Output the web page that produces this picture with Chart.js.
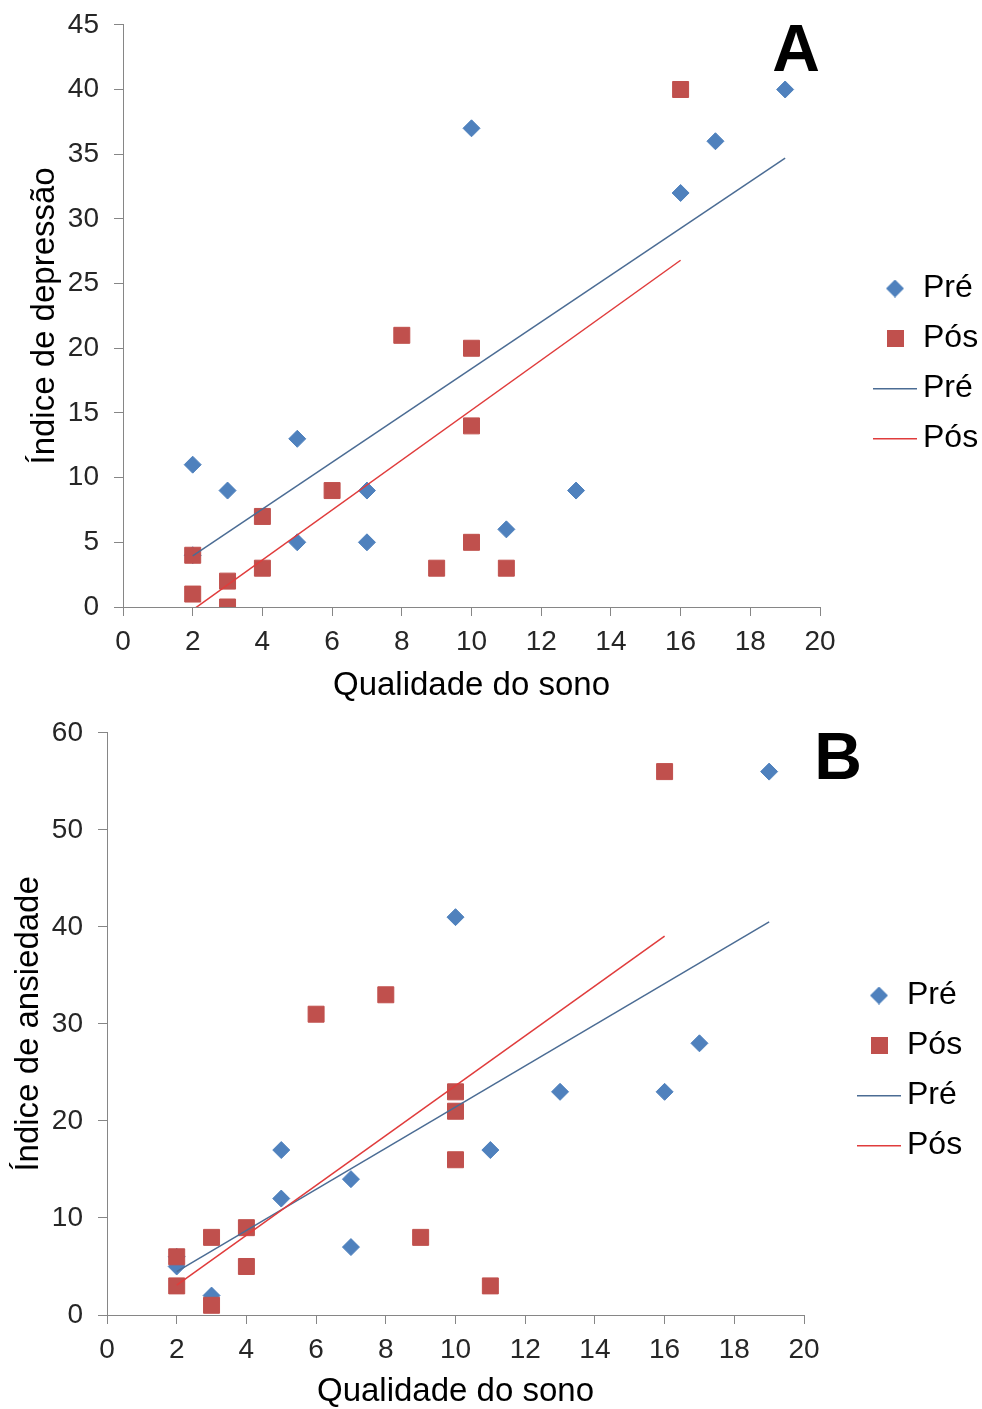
<!DOCTYPE html>
<html lang="pt">
<head>
	<meta charset="utf-8">
	<title>Qualidade do sono</title>
	<style>
body {
	margin: 0;
	background: #fff;
	overflow: hidden;
}
#wrap {
	position: relative;
	width: 982px;
	height: 1409px;
	overflow: hidden;
}
canvas {
	position: absolute;
}
	</style>
</head>
<body>

<div id="wrap">
	<canvas id="chartA" width="982" height="710" style="left:0;top:-7px"></canvas>
	<canvas id="chartB" width="982" height="708" style="left:-16px;top:701px"></canvas>
</div>

<script src="https://cdn.jsdelivr.net/npm/chart.js"></script>
<script>
// sleep quality score of each participant (x)
const qualityPre = [2, 2, 3, 5, 5, 7, 7, 10, 11, 13, 16, 17, 19];
const qualityPos = [2, 2, 3, 3, 4, 4, 6, 8, 9, 10, 10, 10, 11, 16];

// A - depression index
const depressionPre = [11, 4, 9, 13, 5, 9, 5, 37, 6, 9, 32, 36, 40];
const depressionPos = [4, 1, 2, 0, 7, 3, 9, 21, 3, 20, 14, 5, 3, 40];

// B - anxiety index
const anxietyPre = [5, 6, 2, 17, 12, 14, 7, 41, 17, 23, 23, 28, 56];
const anxietyPos = [6, 3, 8, 1, 9, 5, 31, 33, 8, 23, 21, 16, 3, 56];

const seriesNames = ['Pré', 'Pós', 'Pré', 'Pós'];

const BLUE = '#4F81BD';
const RED = '#C0504D';
const BLUE_LINE = '#4B6C94';
const RED_LINE = '#E03C3C';
const AXIS = '#868686';
const FONT = "'Liberation Sans', Arial, sans-serif";

function points(xs, ys) {
	return xs.map((x, i) => ({x: x, y: ys[i]}));
}

// linear trendline over the data range (least squares, like Excel)
function trend(xs, ys) {
	let n = xs.length;
	let mx = xs.reduce((a, b) => a + b, 0) / n;
	let my = ys.reduce((a, b) => a + b, 0) / n;
	let sxy = 0, sxx = 0;
	for (let i = 0; i < n; i++) {
		sxy += (xs[i] - mx) * (ys[i] - my);
		sxx += (xs[i] - mx) * (xs[i] - mx);
	}
	let b = sxy / sxx;
	let a = my - b * mx;
	let x0 = Math.min(...xs), x1 = Math.max(...xs);
	return [{x: x0, y: a + b * x0}, {x: x1, y: a + b * x1}];
}

// little pictures for the legend
function icon(w, h, draw) {
	let c = document.createElement('canvas');
	c.width = w;
	c.height = h;
	draw(c.getContext('2d'));
	return c;
}
const legendIcons = [
	icon(18, 18, g => {
		g.fillStyle = BLUE;
		g.beginPath();
		g.moveTo(9, 0); g.lineTo(18, 9); g.lineTo(9, 18); g.lineTo(0, 9);
		g.closePath();
		g.fill();
	}),
	icon(17, 17, g => { g.fillStyle = RED; g.fillRect(0, 0, 17, 17); }),
	icon(44, 3, g => { g.fillStyle = BLUE_LINE; g.fillRect(0, 1, 44, 1.5); }),
	icon(44, 3, g => { g.fillStyle = RED_LINE; g.fillRect(0, 1, 44, 1.5); })
];

// big panel letter (A / B)
const panelLabel = {
	id: 'panelLabel',
	afterDraw(chart, args, opts) {
		let ctx = chart.ctx;
		ctx.save();
		ctx.font = 'bold 66px ' + FONT;
		ctx.fillStyle = '#000';
		ctx.textAlign = 'right';
		ctx.textBaseline = 'alphabetic';
		ctx.fillText(opts.text, chart.chartArea.right + opts.dx, chart.chartArea.top + opts.dy);
		ctx.restore();
	}
};

function makeChart(id, pre, pos, yMax, yStep, yTitle, letter, letterDx, xAxisH) {
	new Chart(document.getElementById(id), {
		type: 'scatter',
		data: {
			datasets: [
				{
					label: seriesNames[0],
					data: points(qualityPre, pre),
					pointStyle: 'rectRot',
					pointRadius: 8.5,
					backgroundColor: BLUE,
					borderColor: BLUE,
					borderWidth: 1,
					order: 4
				},
				{
					label: seriesNames[1],
					data: points(qualityPos, pos),
					pointStyle: 'rect',
					pointRadius: 11.3,
					backgroundColor: RED,
					borderColor: RED,
					borderWidth: 1,
					order: 3
				},
				{
					label: seriesNames[2],
					data: trend(qualityPre, pre),
					showLine: true,
					pointRadius: 0,
					borderColor: BLUE_LINE,
					borderWidth: 1.5,
					clip: 0,
					order: 2
				},
				{
					label: seriesNames[3],
					data: trend(qualityPos, pos),
					showLine: true,
					pointRadius: 0,
					borderColor: RED_LINE,
					borderWidth: 1.5,
					clip: 0,
					order: 1
				}
			]
		},
		options: {
			responsive: false,
			animation: false,
			events: [],
			layout: {
				padding: {top: 31, left: 0, right: 0, bottom: 0}
			},
			scales: {
				x: {
					type: 'linear',
					min: 0,
					max: 20,
					ticks: {
						stepSize: 2,
						padding: 9,
						color: '#262626',
						font: {family: FONT, size: 28}
					},
					grid: {drawOnChartArea: false, tickLength: 9, color: AXIS},
					border: {color: AXIS, width: 1},
					title: {
						display: true,
						text: 'Qualidade do sono',
						color: '#000',
						padding: {top: 0, bottom: -3},
						font: {family: FONT, size: 33}
					},
					afterFit: s => { s.height = xAxisH; }
				},
				y: {
					type: 'linear',
					min: 0,
					max: yMax,
					ticks: {
						stepSize: yStep,
						padding: 15,
						color: '#262626',
						font: {family: FONT, size: 28}
					},
					grid: {drawOnChartArea: false, tickLength: 9, color: AXIS},
					border: {color: AXIS, width: 1},
					title: {
						display: true,
						text: yTitle,
						color: '#000',
						padding: {top: 25, bottom: 0},
						font: {family: FONT, size: 33}
					},
					afterFit: s => { s.width = 123; }
				},
				// empty space between plot and legend
				gap: {
					type: 'linear',
					position: 'right',
					display: true,
					grid: {display: false},
					border: {display: false},
					ticks: {display: false},
					afterFit: s => { s.width = 45; }
				}
			},
			plugins: {
				legend: {
					position: 'right',
					maxWidth: 117,
					labels: {
						usePointStyle: true,
						boxWidth: 24,
						padding: 18,
						color: '#000',
						font: {family: FONT, size: 32},
						generateLabels(chart) {
							let items = Chart.defaults.plugins.legend.labels.generateLabels(chart);
							items.forEach(it => { it.pointStyle = legendIcons[it.datasetIndex]; });
							return items;
						},
						sort: (a, b) => a.datasetIndex - b.datasetIndex
					}
				},
				tooltip: {enabled: false},
				panelLabel: {text: letter, dx: letterDx, dy: 46}
			}
		},
		plugins: [panelLabel]
	});
}

makeChart('chartA', depressionPre, depressionPos, 45, 5, 'Índice de depressão', 'A', 0, 96);
makeChart('chartB', anxietyPre, anxietyPos, 60, 10, 'Índice de ansiedade', 'B', 58, 94);
</script>
</body>
</html>
